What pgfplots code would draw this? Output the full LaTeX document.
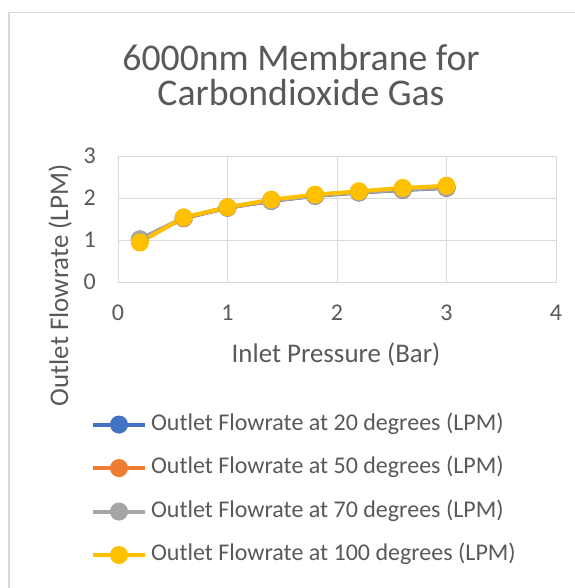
\documentclass[border=0pt]{standalone}
\usepackage{pgfplots}
\pgfplotsset{compat=1.18}
\usepackage{fontspec}
\setmainfont{Carlito}
\definecolor{txt}{HTML}{595959}
\definecolor{grd}{HTML}{D9D9D9}
\definecolor{c1}{HTML}{4472C4}
\definecolor{c2}{HTML}{ED7D31}
\definecolor{c3}{HTML}{A5A5A5}
\definecolor{c4}{HTML}{FFC000}
\begin{document}
\begin{tikzpicture}[x=1bp,y=1bp]
\useasboundingbox (0,0) rectangle (575,-588);
\fill[white] (0,0) rectangle (575,-588);
\draw[grd, line width=1.3bp] (9,-12.5) rectangle (620,-620);
\node[txt, font=\fontsize{37.7bp}{40bp}\selectfont, anchor=base, inner sep=0] at (301,-71) {6000nm Membrane for};
\node[txt, font=\fontsize{37.7bp}{40bp}\selectfont, anchor=base, inner sep=0] at (301,-106) {Carbondioxide Gas};
\node[txt, font=\fontsize{26.9bp}{30bp}\selectfont, anchor=base, inner sep=0] at (336,-362) {Inlet Pressure (Bar)};
\node[txt, font=\fontsize{26.9bp}{30bp}\selectfont, anchor=base, inner sep=0, rotate=90] at (68,-285.5) {Outlet Flowrate (LPM)};
\begin{axis}[
  at={(118bp,-282bp)}, anchor=south west,
  scale only axis, width=438bp, height=126bp,
  xmin=0, xmax=4, ymin=0, ymax=3,
  xtick={0,1,2,3,4}, ytick={0,1,2,3},
  grid=major, major grid style={grd, line width=1bp},
  axis line style={grd, line width=1bp},
  major tick length=0pt,
  /pgf/number format/assume math mode=true,
  tick label style={txt, font=\fontsize{24bp}{27bp}\selectfont, inner sep=0pt},
  xticklabel style={anchor=north, yshift=-23bp},
  yticklabel style={anchor=east, xshift=-22bp},
  every axis plot/.append style={line width=4bp, mark=*, mark size=7bp},
  legend cell align=left,
  legend style={draw=none, fill=none, inner sep=0pt, outer sep=0pt,
    at={(axis description cs:-0.0616,-1.048)}, anchor=north west,
    row sep=22.5bp, column sep=4bp,
    font=\fontsize{24bp}{27bp}\selectfont, text=txt,
    nodes={inner sep=0pt, text height=16bp, text depth=5bp}},
  legend image code/.code={\draw[mark repeat=2, mark phase=2, mark size=7bp, line width=4bp, #1] plot coordinates {(0bp,0bp) (26bp,0bp) (52bp,0bp)};},
]
\addplot[c1, mark options={fill=c1}] coordinates {(0.2,1.00) (0.6,1.52) (1.0,1.77) (1.4,1.93) (1.8,2.05) (2.2,2.13) (2.6,2.19) (3.0,2.24)};
\addlegendentry{Outlet Flowrate at 20 degrees (LPM)}
\addplot[c2, mark options={fill=c2}] coordinates {(0.2,1.00) (0.6,1.52) (1.0,1.77) (1.4,1.94) (1.8,2.06) (2.2,2.14) (2.6,2.20) (3.0,2.25)};
\addlegendentry{Outlet Flowrate at 50 degrees (LPM)}
\addplot[c3, mark options={fill=c3}] coordinates {(0.2,1.02) (0.6,1.53) (1.0,1.78) (1.4,1.94) (1.8,2.06) (2.2,2.14) (2.6,2.20) (3.0,2.25)};
\addlegendentry{Outlet Flowrate at 70 degrees (LPM)}
\addplot[c4, mark options={fill=c4}] coordinates {(0.2,0.94) (0.6,1.54) (1.0,1.78) (1.4,1.96) (1.8,2.08) (2.2,2.16) (2.6,2.24) (3.0,2.29)};
\addlegendentry{Outlet Flowrate at 100 degrees (LPM)}
\end{axis}
\end{tikzpicture}
\end{document}
